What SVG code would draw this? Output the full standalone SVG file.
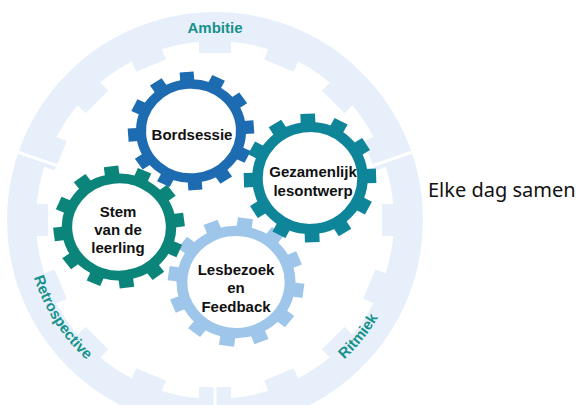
<svg xmlns="http://www.w3.org/2000/svg" xmlns:xlink="http://www.w3.org/1999/xlink" width="580" height="405" viewBox="0 0 580 405">
<style>
.lbl{font-family:"Liberation Sans",Arial,sans-serif;font-weight:bold;font-size:15px;fill:#111;text-anchor:middle}
.ring{font-family:"Liberation Sans",Arial,sans-serif;font-weight:bold;font-size:15px;fill:#17918b}
.side{font-family:"Noto Sans",sans-serif;font-size:20px;fill:#111}
.tooth{fill:currentColor}
.div{stroke:#fff;stroke-width:3}
</style>
<defs>
<g id="teeth">
<rect class="tooth" x="-7" y="-63" width="14" height="10"/>
<rect class="tooth" x="-7" y="-63" width="14" height="10" transform="rotate(30)"/>
<rect class="tooth" x="-7" y="-63" width="14" height="10" transform="rotate(60)"/>
<rect class="tooth" x="-7" y="-63" width="14" height="10" transform="rotate(90)"/>
<rect class="tooth" x="-7" y="-63" width="14" height="10" transform="rotate(120)"/>
<rect class="tooth" x="-7" y="-63" width="14" height="10" transform="rotate(150)"/>
<rect class="tooth" x="-7" y="-63" width="14" height="10" transform="rotate(180)"/>
<rect class="tooth" x="-7" y="-63" width="14" height="10" transform="rotate(210)"/>
<rect class="tooth" x="-7" y="-63" width="14" height="10" transform="rotate(240)"/>
<rect class="tooth" x="-7" y="-63" width="14" height="10" transform="rotate(270)"/>
<rect class="tooth" x="-7" y="-63" width="14" height="10" transform="rotate(300)"/>
<rect class="tooth" x="-7" y="-63" width="14" height="10" transform="rotate(330)"/>
</g>
<g id="gear">
<use xlink:href="#teeth" href="#teeth"/>
<circle r="50" fill="#fff" stroke="currentColor" stroke-width="10"/>
</g>
<path id="arcRetro" d="M25.7,236.6 A190,190 0 0 0 120,384.5"/>
<path id="arcRitmiek" d="M298.3,390.8 A190,190 0 0 0 399.4,266"/>
</defs>

<g id="outer-ring">
<circle cx="215" cy="220" r="193.5" fill="none" stroke="#e7f0fa" stroke-width="29"/>
<g transform="translate(215,220)" fill="#e7f0fa">
<rect x="-16" y="-180" width="32" height="13"/>
<rect x="-16" y="-180" width="32" height="13" transform="rotate(22.5)"/>
<rect x="-16" y="-180" width="32" height="13" transform="rotate(45)"/>
<rect x="-16" y="-180" width="32" height="13" transform="rotate(67.5)"/>
<rect x="-16" y="-180" width="32" height="13" transform="rotate(90)"/>
<rect x="-16" y="-180" width="32" height="13" transform="rotate(112.5)"/>
<rect x="-16" y="-180" width="32" height="13" transform="rotate(135)"/>
<rect x="-16" y="-180" width="32" height="13" transform="rotate(157.5)"/>
<rect x="-16" y="-180" width="32" height="13" transform="rotate(180)"/>
<rect x="-16" y="-180" width="32" height="13" transform="rotate(202.5)"/>
<rect x="-16" y="-180" width="32" height="13" transform="rotate(225)"/>
<rect x="-16" y="-180" width="32" height="13" transform="rotate(247.5)"/>
<rect x="-16" y="-180" width="32" height="13" transform="rotate(270)"/>
<rect x="-16" y="-180" width="32" height="13" transform="rotate(292.5)"/>
<rect x="-16" y="-180" width="32" height="13" transform="rotate(315)"/>
<rect x="-16" y="-180" width="32" height="13" transform="rotate(337.5)"/>
</g>
<line class="div" x1="366.3" y1="167.9" x2="415.4" y2="151"/>
<line class="div" x1="63.7" y1="167.9" x2="14.6" y2="151"/>
<line class="div" x1="215" y1="370" x2="215" y2="432"/>
<text class="ring" x="215" y="33" text-anchor="middle">Ambitie</text>
<text class="ring"><textPath xlink:href="#arcRetro" href="#arcRetro" startOffset="50%" text-anchor="middle">Retrospective</textPath></text>
<text class="ring"><textPath xlink:href="#arcRitmiek" href="#arcRitmiek" startOffset="50%" text-anchor="middle">Ritmiek</textPath></text>
</g>

<g id="connectors"></g>

<g id="gear-lesbezoek">
<use xlink:href="#gear" href="#gear" color="#9ec6ea" transform="translate(236,282) scale(1.08,1.02) rotate(8)"/>
<text class="lbl" x="236" y="275">Lesbezoek</text>
<text class="lbl" x="236" y="293">en</text>
<text class="lbl" x="236" y="312">Feedback</text>
</g>
<g id="gear-stem">
<use xlink:href="#gear" href="#gear" color="#0b8479" transform="translate(119,227) scale(1.04,0.97) rotate(-7)"/>
<text class="lbl" x="118" y="217">Stem</text>
<text class="lbl" x="118" y="235">van de</text>
<text class="lbl" x="118" y="253">leerling</text>
</g>
<g id="gear-bordsessie">
<use xlink:href="#gear" href="#gear" color="#1d6bb0" transform="translate(191,131) scale(1,0.94) rotate(-4)"/>
<text class="lbl" x="192" y="140">Bordsessie</text>
</g>
<g id="gear-gezamenlijk">
<use xlink:href="#gear" href="#gear" color="#0e8598" transform="translate(310,178) scale(1.05,1.02) rotate(-2)"/>
<text class="lbl" x="313" y="177">Gezamenlijk</text>
<text class="lbl" x="313" y="196">lesontwerp</text>
</g>

<text id="side-label" class="side" x="428" y="197">Elke dag samen</text>
</svg>
